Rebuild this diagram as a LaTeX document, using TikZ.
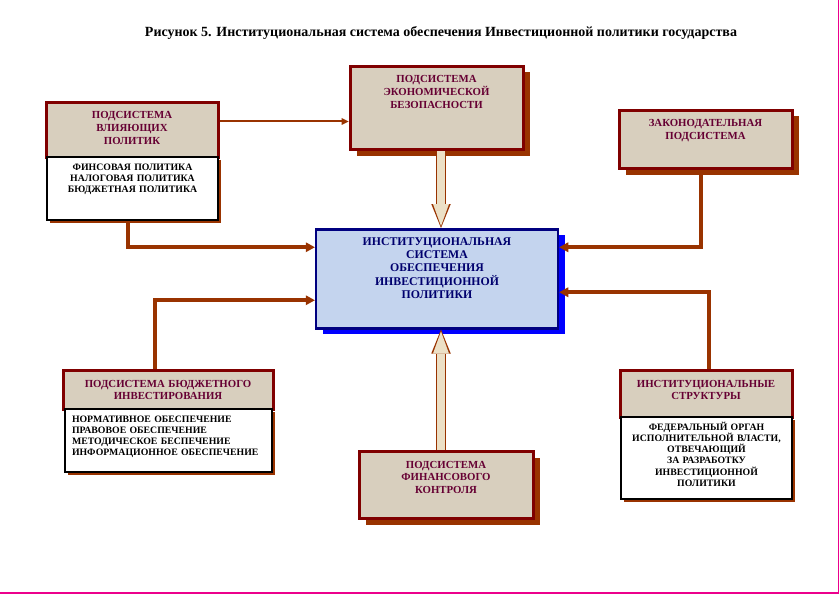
\documentclass[tikz,border=0pt]{standalone}
\usepackage{fontspec}
\setmainfont{Liberation Serif}
\usetikzlibrary{arrows.meta, shadows}
\definecolor{linen}{RGB}{216,207,190}
\definecolor{headline}{RGB}{128,0,0}
\definecolor{headtext}{RGB}{102,0,51}
\definecolor{rust}{RGB}{153,51,0}
\definecolor{corefill}{RGB}{196,212,238}
\definecolor{coreline}{RGB}{0,0,128}
\definecolor{coretext}{RGB}{0,0,110}
\definecolor{fatfill}{RGB}{236,224,198}
\tikzstyle{head} = [rectangle, draw = headline, line width = 3pt, fill = linen, text = headtext, anchor = north, align = center, inner xsep = 4pt, inner ysep = 8.5pt, text height = 8pt, font = \bfseries\fontsize{10.8}{12.8}\selectfont]
\tikzstyle{headshade} = [general shadow = {fill = rust, shadow xshift = 7pt, shadow yshift = -6pt}]
\tikzstyle{list} = [rectangle, draw = black, line width = 2pt, fill = white, anchor = north, align = center, inner xsep = 7pt, inner ysep = 5pt, text height = 8pt, general shadow = {fill = rust, shadow xshift = 2.5pt, shadow yshift = -2.5pt}, font = \bfseries\fontsize{9.8}{11.3}\selectfont]
\tikzstyle{core} = [rectangle, draw = coreline, line width = 2.5pt, fill = corefill, text = coretext, anchor = north, align = center, inner xsep = 4pt, inner ysep = 7.5pt, text height = 8.5pt, general shadow = {fill = blue, shadow xshift = 7pt, shadow yshift = -6pt}, font = \bfseries\fontsize{11.8}{13.3}\selectfont]
\tikzstyle{link} = [draw = rust, line width = 4pt, -{Triangle[length = 9pt, width = 10pt, line width = 0pt]}]
\tikzstyle{linkthin} = [draw = rust, line width = 2pt, -{Triangle[length = 7pt, width = 7pt, line width = 0pt]}]
\tikzstyle{fatlink} = [draw = rust, line width = 10pt, -{Triangle[length = 24pt, width = 19.5pt, line width = 0pt]}, postaction = {draw = fatfill, line width = 7.5pt, shorten > = 2pt, -{Triangle[length = 22pt, width = 16pt, line width = 0pt]}}]
\tikzstyle{frame} = [draw = magenta, line width = 1.5pt]

\begin{document}
\begin{tikzpicture}[x = 1pt, y = -1pt]
			\useasboundingbox (0, 0) rectangle (839, 594);
			% Place nodes
			\node [font = \bfseries\fontsize{14}{16}\selectfont] (title) at (441, 33) {Рисунок 5. Институциональная система обеспечения Инвестиционной политики государства};
			\node [head, text width = 164pt, text depth = 30pt] (pol) at (132, 101) {ПОДСИСТЕМА\\ВЛИЯЮЩИХ\\ПОЛИТИК};
			\node [list, text width = 157pt, text depth = 45pt] (pollist) at (132.5, 156) {ФИНСОВАЯ ПОЛИТИКА\\НАЛОГОВАЯ ПОЛИТИКА\\БЮДЖЕТНАЯ ПОЛИТИКА};
			\node [head, headshade, text width = 165pt, text depth = 58pt] (econ) at (436.5, 65) {ПОДСИСТЕМА\\ЭКОНОМИЧЕСКОЙ\\БЕЗОПАСНОСТИ};
			\node [head, headshade, text width = 165pt, text depth = 33pt] (law) at (705.5, 109) {ЗАКОНОДАТЕЛЬНАЯ\\ПОДСИСТЕМА};
			\node [core, text width = 234pt, text depth = 75.5pt] (inst) at (437, 228) {ИНСТИТУЦИОНАЛЬНАЯ\\СИСТЕМА\\ОБЕСПЕЧЕНИЯ\\ИНВЕСТИЦИОННОЙ\\ПОЛИТИКИ};
			\node [head, text width = 202pt, text depth = 14pt] (budget) at (168, 369) {ПОДСИСТЕМА БЮДЖЕТНОГО\\ИНВЕСТИРОВАНИЯ};
			\node [list, align = left, text width = 193pt, text depth = 45pt] (budgetlist) at (168.5, 408) {НОРМАТИВНОЕ ОБЕСПЕЧЕНИЕ\\ПРАВОВОЕ ОБЕСПЕЧЕНИЕ\\МЕТОДИЧЕСКОЕ БЕСПЕЧЕНИЕ\\ИНФОРМАЦИОННОЕ ОБЕСПЕЧЕНИЕ};
			\node [head, headshade, text width = 166pt, text depth = 42pt] (fin) at (446, 450) {ПОДСИСТЕМА\\ФИНАНСОВОГО\\КОНТРОЛЯ};
			\node [head, text width = 164pt, text depth = 22pt] (struct) at (706, 369) {ИНСТИТУЦИОНАЛЬНЫЕ\\СТРУКТУРЫ};
			\node [list, text width = 157pt, text depth = 64pt] (structlist) at (706.5, 416) {ФЕДЕРАЛЬНЫЙ ОРГАН\\ИСПОЛНИТЕЛЬНОЙ ВЛАСТИ,\\ОТВЕЧАЮЩИЙ\\ЗА РАЗРАБОТКУ\\ИНВЕСТИЦИОННОЙ\\ПОЛИТИКИ};
			\coordinate (polout) at ([yshift = 8.5pt]pol.east);
			% Draw edges
			\path [linkthin] (polout) -- (polout -| econ.west);
			\path [fatlink] ([xshift = 4.5pt]econ.south) -- ([xshift = 4pt]inst.north);
			\path [fatlink] ([xshift = -5pt]fin.north) -- ([xshift = 4pt]inst.south);
			\path [link] ([xshift = -4.5pt]pollist.south) |- ([yshift = 31.5pt]inst.west);
			\path [link] ([xshift = -13pt]budget.north) |- ([yshift = -21.5pt]inst.west);
			\path [link] ([xshift = -4.5pt]law.south) |- ([yshift = 31.5pt]inst.east);
			\path [link] ([xshift = 3pt]struct.north) |- ([yshift = -13.5pt]inst.east);
			% Page edge
			\path [frame] (838.5, 0) -- (838.5, 593.2) -- (0, 593.2);
		\end{tikzpicture}
\end{document}
